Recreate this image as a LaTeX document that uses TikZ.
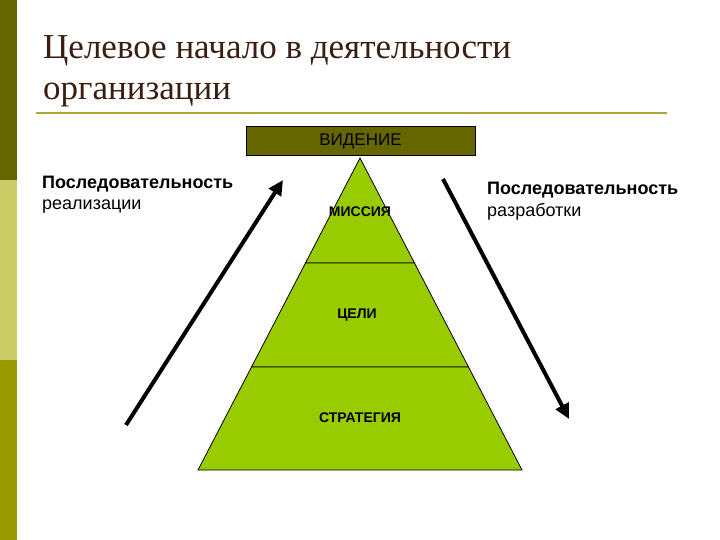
\documentclass[tikz,border=0pt]{standalone}
\usepackage{fontspec}
\setmainfont{Liberation Serif}
\newfontfamily\arial{Liberation Sans}
\usetikzlibrary{arrows.meta}
\definecolor{darkolive}{HTML}{666600}
\definecolor{lightolive}{HTML}{CCCC66}
\definecolor{midolive}{HTML}{999900}
\definecolor{rulecol}{HTML}{A8A838}
\definecolor{pyrgreen}{HTML}{99CC00}
\definecolor{titlecol}{HTML}{3A1E12}
\tikzset{
  titletext/.style={anchor=base west, inner sep=0pt, text=titlecol, font=\fontsize{35}{40}\selectfont},
  sidebold/.style={anchor=base west, inner sep=0pt, font=\arial\bfseries\fontsize{18}{21}\selectfont},
  sidenorm/.style={anchor=base west, inner sep=0pt, font=\arial\fontsize{18}{21}\selectfont},
  layer/.style={fill=pyrgreen, draw=black, line width=0.8pt, line join=miter},
  layerlabel/.style={inner sep=0pt, font=\arial\bfseries\fontsize{14}{16}\selectfont},
  bigarrow/.style={line width=4pt, -{Triangle[length=15pt,width=14pt]}},
}
\begin{document}
\begin{tikzpicture}[x=1pt,y=-1pt]
\useasboundingbox (0,0) rectangle (720,540);
\fill[white] (0,0) rectangle (720,540);
% left bar
\fill[darkolive] (0,0) rectangle (17,180);
\fill[lightolive] (0,180) rectangle (17,360);
\fill[midolive] (0,360) rectangle (17,540);
% title
\node[titletext] (title1) at (43,59) {Целевое начало в деятельности};
\node[titletext] (title2) at (43,100) {организации};
\draw[rulecol, line width=2pt] (36,113) -- (667,113);
% vision box
\node[draw=black, fill=darkolive, line width=0.8pt, minimum width=229pt, minimum height=29pt, inner sep=0pt,
      font=\arial\fontsize{17}{20}\selectfont] (vision) at (360.5,141) {ВИДЕНИЕ};
% pyramid
\coordinate (apex) at (360,158);
\coordinate (l1) at (305.5,263); \coordinate (r1) at (414.5,263);
\coordinate (l2) at (251.5,367); \coordinate (r2) at (468.5,367);
\coordinate (l3) at (198,470); \coordinate (r3) at (522,470);
\filldraw[layer] (apex) -- (r1) -- (l1) -- cycle;
\filldraw[layer] (l1) -- (r1) -- (r2) -- (l2) -- cycle;
\filldraw[layer] (l2) -- (r2) -- (r3) -- (l3) -- cycle;
\node[layerlabel] (mission) at (360,212) {МИССИЯ};
\node[layerlabel] (goals) at (357,315) {ЦЕЛИ};
\node[layerlabel] (strategy) at (360,418) {СТРАТЕГИЯ};
% side texts
\node[sidebold] (lefttitle) at (42,189) {Последовательность};
\node[sidenorm] (leftsub) at (42,210) {реализации};
\node[sidebold] (righttitle) at (487,195) {Последовательность};
\node[sidenorm] (rightsub) at (487,216) {разработки};
% arrows
\coordinate (la) at (126,425); \coordinate (lb) at (283,180);
\coordinate (ra) at (443,179); \coordinate (rb) at (569,419);
\draw[bigarrow] (la) -- (lb);
\draw[bigarrow] (ra) -- (rb);
\end{tikzpicture}
\end{document}
